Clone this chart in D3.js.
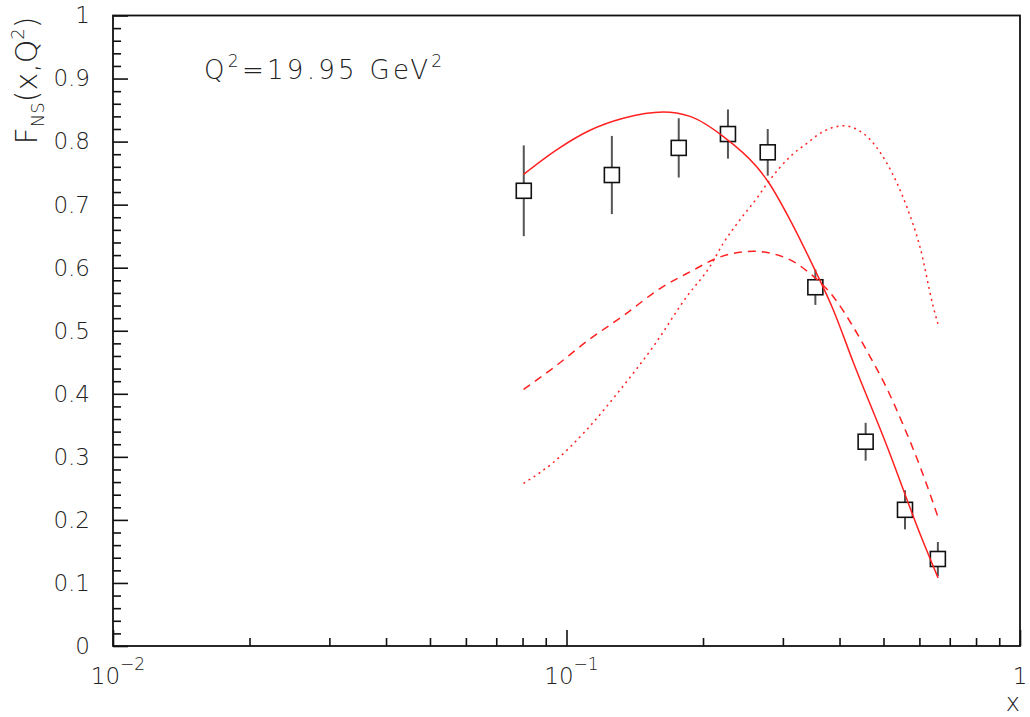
<!DOCTYPE html>
<html>
<head>
<meta charset="utf-8">
<script src="https://cdn.jsdelivr.net/npm/d3@7"></script>
<style>
  html, body { margin: 0; padding: 0; background: #fff; }
  svg text { font-family: "DejaVu Sans", "Liberation Sans", sans-serif; font-weight: 200; fill: #222; }
</style>
</head>
<body>
<svg id="chart" width="1030" height="717"></svg>
<script>
// Non-singlet structure function at Q^2 = 19.95 GeV^2: measured points and three model curves

// measured points
const dataX   = [0.0805, 0.1259, 0.1768, 0.227, 0.2778, 0.3538, 0.4567, 0.5577, 0.659];
const dataY   = [0.722, 0.747, 0.790, 0.812, 0.783, 0.569, 0.324, 0.216, 0.138];
const dataErr = [0.072, 0.062, 0.047, 0.039, 0.037, 0.028, 0.030, 0.031, 0.027];

// full model (solid)
const solidX = [0.0804, 0.0951, 0.1127, 0.1334, 0.1634, 0.1873, 0.2218, 0.2627, 0.2786, 0.3111, 0.3500, 0.3876, 0.4289, 0.5083, 0.6018, 0.6597];
const solidY = [0.748, 0.787, 0.818, 0.837, 0.847, 0.840, 0.808, 0.760, 0.736, 0.676, 0.602, 0.533, 0.450, 0.318, 0.178, 0.108];

// dashed component
const dashX = [0.0804, 0.0935, 0.1117, 0.1341, 0.1608, 0.1879, 0.2181, 0.2582, 0.3059, 0.3441, 0.3876, 0.4289, 0.4669, 0.5083, 0.5530, 0.6018, 0.6597];
const dashY = [0.407, 0.441, 0.485, 0.525, 0.567, 0.594, 0.617, 0.626, 0.615, 0.591, 0.554, 0.506, 0.459, 0.409, 0.350, 0.285, 0.204];

// dotted component
const dotX = [0.0804, 0.0935, 0.1108, 0.1312, 0.1554, 0.1841, 0.2072, 0.2218, 0.2413, 0.2627, 0.2786, 0.3111, 0.3385, 0.3684, 0.4077, 0.4513, 0.5083, 0.5625, 0.6018, 0.6438, 0.6597];
const dotY = [0.258, 0.291, 0.343, 0.406, 0.475, 0.554, 0.602, 0.639, 0.676, 0.710, 0.736, 0.776, 0.797, 0.816, 0.825, 0.813, 0.766, 0.697, 0.633, 0.538, 0.510];

// axis ticks
const yMajor = [0, 0.1, 0.2, 0.3, 0.4, 0.5, 0.6, 0.7, 0.8, 0.9, 1];
const yMajorLabels = ["0", "0.1", "0.2", "0.3", "0.4", "0.5", "0.6", "0.7", "0.8", "0.9", "1"];
const xMajor = [0.01, 0.1, 1];
const xMajorBase = ["10", "10", "1"];
const xMajorExp  = ["\u22122", "\u22121", ""];

const svg = d3.select("#chart");
const plotL = 113, plotR = 1020, plotT = 15.5, plotB = 646;

const x = d3.scaleLog().domain([0.01, 1]).range([plotL, plotR]);
const y = d3.scaleLinear().domain([0, 1]).range([plotB, plotT]);

// minor ticks
const yMinor = d3.range(0, 1.0001, 0.02).filter(v => Math.abs(v * 10 - Math.round(v * 10)) > 1e-6);
const xMinor = [];
[0.01, 0.1].forEach(d => { for (let k = 2; k <= 9; k++) xMinor.push(d * k); });

// Y axis (ticks inward)
const yAxisMajor = d3.axisLeft(y).tickValues(yMajor).tickSize(-15).tickPadding(23)
  .tickFormat((d, i) => yMajorLabels[i]);
const gy = svg.append("g").attr("transform", `translate(${plotL},0)`).call(yAxisMajor);
gy.select(".domain").remove();
gy.selectAll(".tick line").attr("stroke", "#111").attr("stroke-width", 1.6);
gy.selectAll(".tick text").attr("font-size", 23).attr("fill", "#222")
  .style("font-family", '"DejaVu Sans", sans-serif').style("font-weight", 200);

const gyMinor = svg.append("g").attr("transform", `translate(${plotL},0)`)
  .call(d3.axisLeft(y).tickValues(yMinor).tickSize(-8).tickFormat(""));
gyMinor.select(".domain").remove();
gyMinor.selectAll(".tick line").attr("stroke", "#111").attr("stroke-width", 1.6);

// X axis (ticks inward)
const gx = svg.append("g").attr("transform", `translate(0,${plotB})`)
  .call(d3.axisBottom(x).tickValues(xMajor).tickSize(-16).tickFormat(""));
gx.select(".domain").remove();
gx.selectAll(".tick line").attr("stroke", "#111").attr("stroke-width", 1.6);

const gxMinor = svg.append("g").attr("transform", `translate(0,${plotB})`)
  .call(d3.axisBottom(x).tickValues(xMinor).tickSize(-8).tickFormat(""));
gxMinor.select(".domain").remove();
gxMinor.selectAll(".tick line").attr("stroke", "#111").attr("stroke-width", 1.6);

// X tick labels with exponents
xMajor.forEach((v, i) => {
  const t = svg.append("text")
    .attr("x", x(v) + (xMajorExp[i] ? 5 : 0))
    .attr("y", 684)
    .attr("text-anchor", "middle")
    .attr("font-size", 23);
  t.append("tspan").text(xMajorBase[i]);
  if (xMajorExp[i]) t.append("tspan").attr("dy", -14).attr("font-size", 17).text(xMajorExp[i]);
});

// frame
svg.append("rect")
  .attr("x", plotL).attr("y", plotT)
  .attr("width", plotR - plotL).attr("height", plotB - plotT)
  .attr("fill", "none").attr("stroke", "#111").attr("stroke-width", 1.8);

// axis titles
svg.append("text").attr("x", plotR).attr("y", 711).attr("text-anchor", "end")
  .attr("font-size", 24).text("x");

const yt = svg.append("text")
  .attr("transform", `translate(37,${plotT + 1}) rotate(-90)`)
  .attr("text-anchor", "end").attr("font-size", 30);
yt.append("tspan").text("F");
yt.append("tspan").attr("dy", 7).attr("font-size", 18).text("NS");
yt.append("tspan").attr("dy", -7).text("(x,Q");
yt.append("tspan").attr("dy", -13).attr("font-size", 18).text("2");
yt.append("tspan").attr("dy", 13).text(")");

// annotation
const ann = svg.append("text").attr("x", 204).attr("y", 79)
  .attr("font-size", 26).attr("letter-spacing", "3.3px");
ann.append("tspan").text("Q");
ann.append("tspan").attr("dy", -12).attr("font-size", 17).text("2");
ann.append("tspan").attr("dy", 12).text("=19.95 GeV");
ann.append("tspan").attr("dy", -12).attr("font-size", 17).text("2");

// data points: error bars outside the open squares
const half = 7.5;
const pts = svg.append("g");
dataX.forEach((xv, i) => {
  const cx = x(xv), cy = y(dataY[i]);
  const yTop = y(dataY[i] + dataErr[i]), yBot = y(dataY[i] - dataErr[i]);
  if (yTop < cy - half) pts.append("line").attr("x1", cx).attr("x2", cx).attr("y1", yTop).attr("y2", cy - half)
    .attr("stroke", "#555").attr("stroke-width", 2);
  if (yBot > cy + half) pts.append("line").attr("x1", cx).attr("x2", cx).attr("y1", cy + half).attr("y2", yBot)
    .attr("stroke", "#555").attr("stroke-width", 2);
  pts.append("rect").attr("x", cx - half).attr("y", cy - half)
    .attr("width", 2 * half).attr("height", 2 * half)
    .attr("fill", "none").attr("stroke", "#111").attr("stroke-width", 1.6);
});

// model curves
const line = d3.line().x(d => x(d[0])).y(d => y(d[1])).curve(d3.curveMonotoneX);
const curves = [
  { xs: solidX, ys: solidY, dash: null },
  { xs: dashX,  ys: dashY,  dash: "8,6" },
  { xs: dotX,   ys: dotY,   dash: "2,4" }
];
curves.forEach(c => {
  svg.append("path")
    .datum(c.xs.map((v, i) => [v, c.ys[i]]))
    .attr("d", line)
    .attr("fill", "none")
    .attr("stroke", "#ff2020")
    .attr("stroke-width", 1.5)
    .attr("stroke-dasharray", c.dash);
});
</script>
</body>
</html>
